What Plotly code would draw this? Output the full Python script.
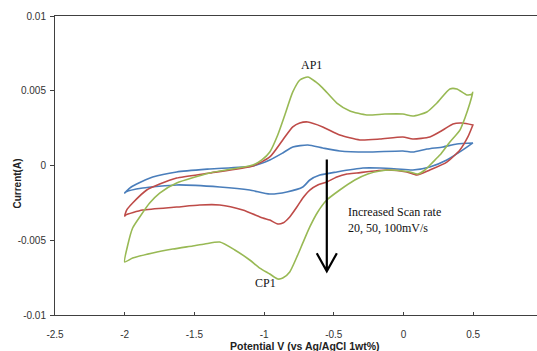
import plotly.graph_objects as go

# ---- data ----
# 100 mV/s (green)
green_fwd_x = [-2.000, -1.978, -1.943, -1.892, -1.821, -1.749, -1.627, -1.390, -1.081, -1.016, -0.959, -0.902, -0.851, -0.794, -0.743, -0.686, -0.629, -0.579, -0.478, -0.384, -0.263, -0.133, -0.004, 0.067, 0.168, 0.240, 0.333, 0.383, 0.455, 0.491]
green_fwd_y = [-0.00645, -0.00532, -0.00418, -0.00344, -0.00251, -0.00184, -0.00117, -0.00050, 0.00003, 0.00037, 0.00090, 0.00204, 0.00338, 0.00492, 0.00572, 0.00592, 0.00559, 0.00518, 0.00418, 0.00365, 0.00338, 0.00344, 0.00344, 0.00331, 0.00358, 0.00418, 0.00512, 0.00512, 0.00472, 0.00478]
green_rev_x = [0.498, 0.477, 0.441, 0.405, 0.333, 0.261, 0.211, 0.154, 0.103, 0.046, -0.004, -0.098, -0.169, -0.256, -0.349, -0.457, -0.550, -0.615, -0.672, -0.722, -0.765, -0.816, -0.866, -0.902, -0.959, -1.031, -1.103, -1.210, -1.318, -1.426, -1.512, -1.655, -1.799, -1.943, -2.000]
green_rev_y = [0.00490, 0.00418, 0.00318, 0.00237, 0.00157, 0.00070, 0.00023, -0.00030, -0.00057, -0.00043, -0.00037, -0.00030, -0.00037, -0.00057, -0.00097, -0.00164, -0.00231, -0.00311, -0.00411, -0.00518, -0.00612, -0.00712, -0.00753, -0.00759, -0.00726, -0.00686, -0.00632, -0.00565, -0.00512, -0.00525, -0.00538, -0.00559, -0.00585, -0.00619, -0.00645]

# 50 mV/s (red)
red_fwd_x = [-2.000, -1.986, -1.943, -1.842, -1.749, -1.627, -1.390, -1.081, -0.959, -0.866, -0.794, -0.744, -0.686, -0.579, -0.457, -0.313, -0.169, -0.004, 0.067, 0.189, 0.283, 0.355, 0.419, 0.498]
red_fwd_y = [-0.00338, -0.00298, -0.00251, -0.00164, -0.00124, -0.00084, -0.00050, -0.00003, 0.00057, 0.00171, 0.00258, 0.00284, 0.00291, 0.00258, 0.00204, 0.00171, 0.00177, 0.00191, 0.00177, 0.00191, 0.00237, 0.00278, 0.00284, 0.00271]
red_rev_x = [0.498, 0.462, 0.405, 0.311, 0.189, 0.096, 0.024, -0.119, -0.335, -0.406, -0.478, -0.550, -0.615, -0.672, -0.722, -0.765, -0.816, -0.866, -0.902, -0.959, -1.009, -1.153, -1.318, -1.462, -1.627, -1.871, -1.993, -2.000]
red_rev_y = [0.00271, 0.00191, 0.00104, 0.00023, -0.00030, -0.00064, -0.00043, -0.00030, -0.00050, -0.00057, -0.00077, -0.00110, -0.00130, -0.00164, -0.00217, -0.00278, -0.00344, -0.00385, -0.00391, -0.00365, -0.00351, -0.00298, -0.00264, -0.00264, -0.00278, -0.00298, -0.00331, -0.00338]

# 20 mV/s (blue)
blue_fwd_x = [-2.000, -1.964, -1.914, -1.799, -1.627, -1.390, -1.081, -0.959, -0.866, -0.794, -0.686, -0.579, -0.457, -0.263, -0.004, 0.067, 0.168, 0.283, 0.383, 0.498]
blue_fwd_y = [-0.00184, -0.00151, -0.00124, -0.00077, -0.00043, -0.00023, -0.00003, 0.00037, 0.00084, 0.00124, 0.00137, 0.00117, 0.00097, 0.00090, 0.00097, 0.00090, 0.00110, 0.00124, 0.00144, 0.00151]
blue_rev_x = [0.498, 0.426, 0.311, 0.189, 0.067, -0.047, -0.169, -0.291, -0.478, -0.600, -0.672, -0.722, -0.837, -0.959, -1.103, -1.318, -1.627, -1.871, -1.993, -2.000]
blue_rev_y = [0.00151, 0.00104, 0.00037, -0.00010, -0.00030, -0.00023, -0.00017, -0.00017, -0.00043, -0.00064, -0.00097, -0.00144, -0.00177, -0.00191, -0.00164, -0.00144, -0.00130, -0.00151, -0.00177, -0.00184]

x_tick_vals = [-2.5, -2, -1.5, -1, -0.5, 0, 0.5]
x_tick_text = ["-2.5", "-2", "-1.5", "-1", "-0.5", "0", "0.5"]
y_tick_vals = [-0.01, -0.005, 0, 0.005, 0.01]
y_tick_text = ["-0.01", "-0.005", "0", "0.005", "0.01"]

series = [
    ("20 mV/s", blue_fwd_x + blue_rev_x, blue_fwd_y + blue_rev_y, "#4A7EBB"),
    ("50 mV/s", red_fwd_x + red_rev_x, red_fwd_y + red_rev_y, "#BE4B48"),
    ("100 mV/s", green_fwd_x + green_rev_x, green_fwd_y + green_rev_y, "#98B954"),
]

fig = go.Figure()
for name, xs, ys, col in series:
    fig.add_trace(go.Scatter(x=xs, y=ys, mode="lines", name=name,
                             line=dict(color=col, width=1.6, shape="spline", smoothing=0.6)))

serif = "Liberation Serif, Times New Roman, serif"
sans = "Liberation Sans, Arial, sans-serif"

# arrow (vertical with open V head)
ax_x = -0.550
ay_top = 0.0004
ay_tip = -0.00707
dx = 0.072
dy = 0.0012
fig.add_shape(type="path", xref="x", yref="y",
              path=f"M {ax_x},{ay_top} L {ax_x},{ay_tip} M {ax_x-dx},{ay_tip+dy} L {ax_x},{ay_tip} L {ax_x+dx},{ay_tip+dy}",
              line=dict(color="black", width=2.2))

fig.add_annotation(x=-0.658, y=0.00672, text="AP1", showarrow=False,
                   font=dict(family=serif, size=12, color="#111"))
fig.add_annotation(x=-0.988, y=-0.00786, text="CP1", showarrow=False,
                   font=dict(family=serif, size=12, color="#111"))
fig.add_annotation(x=-0.4135, y=-0.00365, text="Increased Scan rate<br>20, 50, 100mV/s",
                   showarrow=False, xanchor="left", align="left",
                   font=dict(family=serif, size=12, color="#111"))

# axis titles
fig.add_annotation(xref="paper", yref="paper", x=-0.0778, y=0.438, text="<b>Current(A)</b>",
                   xanchor="center", yanchor="middle",
                   textangle=-90, showarrow=False, font=dict(family=sans, size=10, color="#222"))
fig.add_annotation(xref="paper", yref="paper", x=0.519, y=-0.1037, text="<b>Potential V (vs Ag/AgCl 1wt%)</b>",
                   xanchor="center", yanchor="middle",
                   showarrow=False, font=dict(family=sans, size=10.5, color="#222"))

fig.update_layout(
    width=537, height=351,
    margin=dict(l=55, r=0, t=16, b=36),
    paper_bgcolor="white", plot_bgcolor="white",
    showlegend=False,
    xaxis=dict(range=[-2.5, 0.958], tickvals=x_tick_vals, ticktext=x_tick_text,
               showgrid=False, zeroline=False, showline=True, linecolor="#404040", linewidth=1,
               mirror=True, ticks="inside", ticklen=3, tickcolor="#404040",
               ticklabelstandoff=10, automargin=False,
               tickfont=dict(family=sans, size=10, color="#333")),
    yaxis=dict(range=[-0.01, 0.01], tickvals=y_tick_vals, ticktext=y_tick_text,
               showgrid=False, zeroline=False, showline=True, linecolor="#404040", linewidth=1,
               ticks="outside", ticklen=4, tickcolor="#404040",
               ticklabelstandoff=2, automargin=False,
               tickfont=dict(family=sans, size=10, color="#333")),
)

fig.write_html("out.html", config={"displayModeBar": False},
               post_script="document.body.style.margin='0';")
